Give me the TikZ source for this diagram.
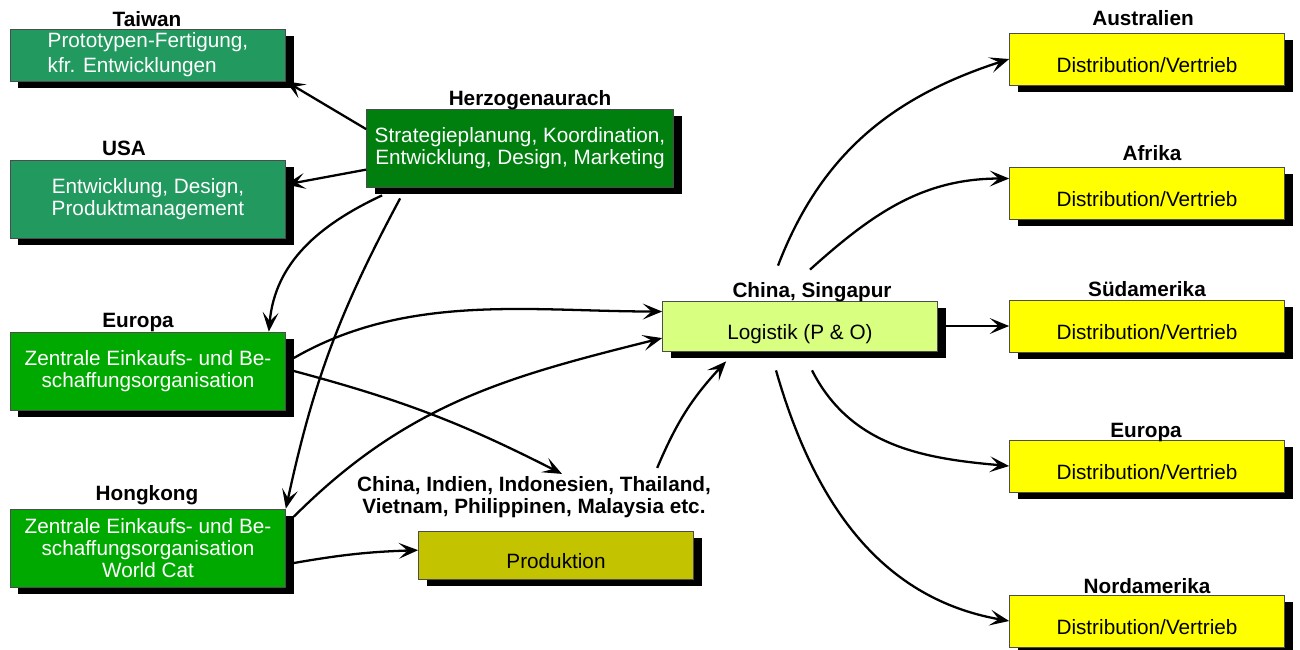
\documentclass[tikz,border=0pt]{standalone}
\usepackage{fontspec}
\setmainfont{Liberation Sans}
\usepackage{tikz}
\usetikzlibrary{arrows.meta, shadows}
\definecolor{siteTeal}{HTML}{22995F}
\definecolor{hqGreen}{HTML}{007F0F}
\definecolor{buyGreen}{HTML}{00A900}
\definecolor{prodOlive}{HTML}{C3C300}
\definecolor{logLime}{HTML}{D9FF80}
\definecolor{saleYellow}{HTML}{FFFF00}

\begin{document}
\begin{tikzpicture}[x=0.2mm, y=-0.2mm,
      box/.style={draw=black!70, line width=0.4pt, minimum width=55mm,
                  minimum height=10.4mm, inner sep=2pt, align=center,
                  font=\fontsize{11.8}{12.6}\selectfont,
                  drop shadow={shadow xshift=1.6mm, shadow yshift=-1.4mm,
                               fill=black, opacity=1}},
      tall/.style={minimum height=15.6mm},
      low/.style={text height=17.5pt, text depth=2.5pt},
      site/.style={box, fill=siteTeal, text=white},
      hq/.style={box, tall, fill=hqGreen, text=white, minimum width=61.4mm},
      buy/.style={box, tall, fill=buyGreen, text=white},
      make/.style={box, low, fill=prodOlive, minimum height=9.6mm},
      hub/.style={box, low, fill=logLime, minimum height=10mm},
      sale/.style={box, low, fill=saleYellow},
      loc/.style={font=\fontsize{11.8}{12.6}\selectfont\bfseries, inner sep=0pt,
                  anchor=base, align=center},
      arr/.style={-{Stealth[length=11pt, width=9pt, inset=5pt]}, line width=1.3pt}
    ]
    \useasboundingbox (0,0) rectangle (1300,650);
    \node[site, align=left] (tw) at (148,55)   {Prototypen-Fertigung,\\[1.5pt]kfr. Entwicklungen};
    \node[site, tall] (us) at (148,199)        {Entwicklung, Design,\\Produktmanagement};
    \node[hq] (hq) at (520,148)                {Strategieplanung, Koordination,\\Entwicklung, Design, Marketing};
    \node[buy] (eu) at (148,371)               {Zentrale Einkaufs- und Be-\\schaffungsorganisation};
    \node[buy] (hk) at (148,548)               {Zentrale Einkaufs- und Be-\\schaffungsorganisation\\World Cat};
    \node[make] (prod) at (556,555)            {Produktion};
    \node[hub] (log) at (800,326)              {Logistik (P \& O)};
    \node[sale] (au) at (1147,59)              {Distribution/Vertrieb};
    \node[sale] (af) at (1147,193)             {Distribution/Vertrieb};
    \node[sale] (sa) at (1147,326)             {Distribution/Vertrieb};
    \node[sale] (eu2) at (1147,466)            {Distribution/Vertrieb};
    \node[sale] (na) at (1147,621)             {Distribution/Vertrieb};

    \node[loc] (twl) at (147,26)     {Taiwan};
    \node[loc] (usl) at (124,155)    {USA};
    \node[loc] (hql) at (530,105)    {Herzogenaurach};
    \node[loc] (eul) at (138,327)    {Europa};
    \node[loc] (hkl) at (147,500)    {Hongkong};
    \node[loc, anchor=center] (prodl) at (534,497) {China, Indien, Indonesien, Thailand,\\Vietnam, Philippinen, Malaysia etc.};
    \node[loc] (logl) at (812,297)   {China, Singapur};
    \node[loc] (aul) at (1143,25)    {Australien};
    \node[loc] (afl) at (1152,160)   {Afrika};
    \node[loc] (sal) at (1147,296)   {Südamerika};
    \node[loc] (eu2l) at (1146,437)  {Europa};
    \node[loc] (nal) at (1147,593)   {Nordamerika};

    \draw[arr] (hq.173) -- (tw.south east);
    \draw[arr] (hq.188) -- (us.6);
    \draw[arr] ([shift={(16,8)}]hq.south west) to[out=205, in=85] ([shift={(-17,0)}]eu.north east);
    \draw[arr] ([shift={(34,11)}]hq.south west) to[bend right=8] (hk.north east);
    \draw[arr] ([shift={(8,-13)}]eu.east) to[out=30, in=180, looseness=0.9] (log.174);
    \draw[arr] ([shift={(8,0)}]eu.east) to[bend left=6] ([shift={(28,-2)}]prodl.north);
    \draw[arr] ([shift={(8,8)}]hk.north east) to[out=45, in=194] (log.185);
    \draw[arr] ([shift={(8,15)}]hk.east) to[bend left=4] (prod.178);
    \draw[arr] ([shift={(-54,-8)}]prodl.north east) to[bend left=10] ([shift={(64,10)}]log.south west);
    \draw[arr] ([shift={(-34,-16)}]logl.north) to[out=69, in=198] (au.west);
    \draw[arr] ([shift={(-2,-12)}]logl.north) to[out=42, in=180] (af.174);
    \draw[arr] ([shift={(8,0)}]log.east) -- (sa.west);
    \draw[arr] ([shift={(12,19)}]log.south) to[out=-63, in=175] (eu2.west);
    \draw[arr] ([shift={(-24,19)}]log.south) to[out=-74, in=170] (na.west);
\end{tikzpicture}
\end{document}
